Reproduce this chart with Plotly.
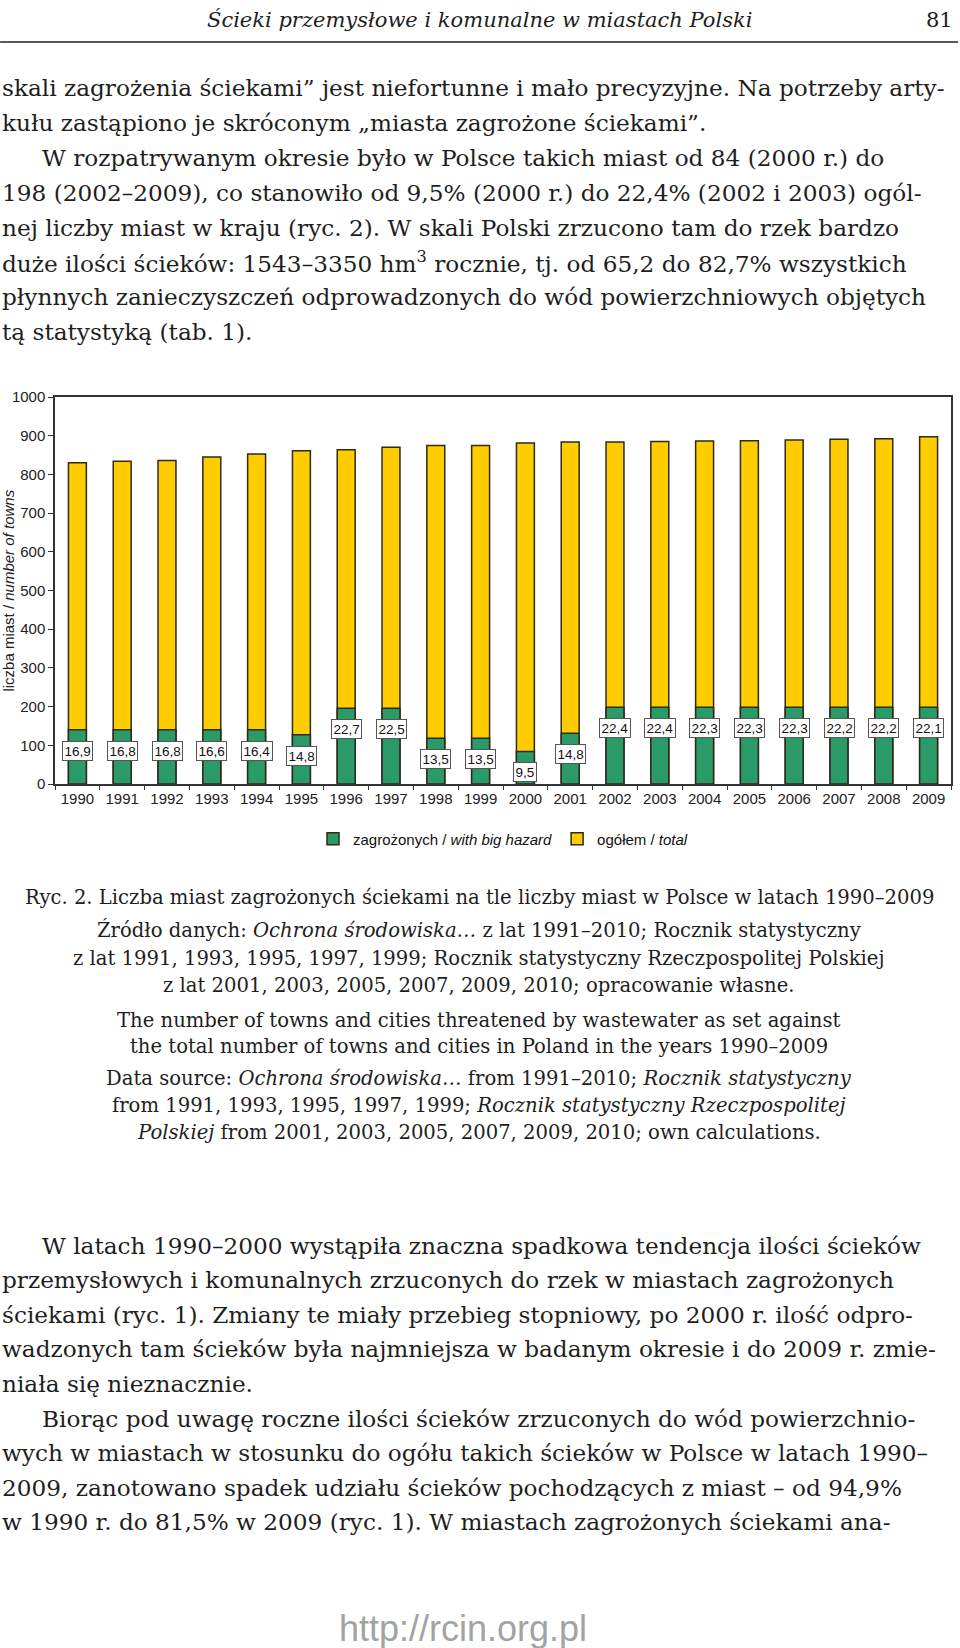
import plotly.graph_objects as go

# ---------------- data ----------------
years = [str(y) for y in range(1990, 2010)]
total_towns = [830, 834, 836, 845, 853, 861, 864, 870, 875, 875,
               881, 884, 884, 885, 886, 887, 889, 891, 892, 897]
hazard_towns = [140, 140, 140, 140, 140, 127, 196, 196, 118, 118,
                84, 131, 198, 198, 198, 198, 198, 198, 198, 198]
hazard_share = ["16,9", "16,8", "16,8", "16,6", "16,4", "14,8", "22,7", "22,5", "13,5", "13,5",
                "9,5", "14,8", "22,4", "22,4", "22,3", "22,3", "22,3", "22,2", "22,2", "22,1"]
y_ticks = [0, 100, 200, 300, 400, 500, 600, 700, 800, 900, 1000]

# ---------------- page geometry ----------------
W, H = 960, 1648
PL, PR, PT, PB = 55, 953, 397, 784   # plot area in pixels


def px(x):
    return (x - PL) / (PR - PL)


def py(y):
    return (PB - y) / (PB - PT)


GREEN = "#2a9a68"
YELLOW = "#ffcc00"
EDGE = "#2e2a18"
SANS = "Liberation Sans, Arial, sans-serif"
SERIF = "DejaVu Serif, serif"
INK = "#1e1e1e"

idx = list(range(len(years)))

fig = go.Figure()
fig.add_trace(go.Bar(
    x=idx, y=total_towns, name="ogółem / <i>total</i>",
    marker=dict(color=YELLOW, line=dict(color=EDGE, width=1.5)),
    width=0.4, legendrank=2,
))
fig.add_trace(go.Bar(
    x=idx, y=hazard_towns, name="zagrożonych / <i>with big hazard</i>",
    marker=dict(color=GREEN, line=dict(color=EDGE, width=1.5)),
    width=0.4, legendrank=1,
))

annotations = []
# value boxes
for i, hv, lab in zip(idx, hazard_towns, hazard_share):
    annotations.append(dict(
        x=i, y=hv, xref="x", yref="y", text=lab, showarrow=False,
        yshift=-21, font=dict(family=SANS, size=13.5, color="#111"),
        bgcolor="white", bordercolor="#555", borderwidth=1, borderpad=1.5,
    ))

# y axis title
annotations.append(dict(
    x=px(8), y=0.5, xref="paper", yref="paper", textangle=-90,
    text="liczba miast / <i>number of towns</i>", showarrow=False,
    font=dict(family=SANS, size=15, color="#222"), xanchor="center", yanchor="middle",
))


def line(text, x, y, size=23.2, anchor="left", family=SERIF, color=INK):
    annotations.append(dict(
        x=px(x), y=py(y), xref="paper", yref="paper", text=text, showarrow=False,
        xanchor=anchor, yanchor="middle", font=dict(family=family, size=size, color=color),
    ))


# header
line("<i>Ścieki przemysłowe i komunalne w miastach Polski</i>", 480, 20, size=21, anchor="center")
line("81", 957, 20, size=21, anchor="right")

# paragraph 1
para1 = [
    (0, "skali zagrożenia ściekami” jest niefortunne i mało precyzyjne. Na potrzeby arty-"),
    (0, "kułu zastąpiono je skróconym „miasta zagrożone ściekami”."),
    (40, "W rozpatrywanym okresie było w Polsce takich miast od 84 (2000 r.) do"),
    (0, "198 (2002–2009), co stanowiło od 9,5% (2000 r.) do 22,4% (2002 i 2003) ogól-"),
    (0, "nej liczby miast w kraju (ryc. 2). W skali Polski zrzucono tam do rzek bardzo"),
    (0, "duże ilości ścieków: 1543–3350 hm<sup>3</sup> rocznie, tj. od 65,2 do 82,7% wszystkich"),
    (0, "płynnych zanieczyszczeń odprowadzonych do wód powierzchniowych objętych"),
    (0, "tą statystyką (tab. 1)."),
]
for i, (ind, t) in enumerate(para1):
    line(t, ind, 88 + i * 34.8)

# caption
caption = [
    (897, "Ryc. 2. Liczba miast zagrożonych ściekami na tle liczby miast w Polsce w latach 1990–2009"),
    (930, "Źródło danych: <i>Ochrona środowiska…</i> z lat 1991–2010; Rocznik statystyczny"),
    (958, "z lat 1991, 1993, 1995, 1997, 1999; Rocznik statystyczny Rzeczpospolitej Polskiej"),
    (985, "z lat 2001, 2003, 2005, 2007, 2009, 2010; opracowanie własne."),
    (1020, "The number of towns and cities threatened by wastewater as set against"),
    (1046, "the total number of towns and cities in Poland in the years 1990–2009"),
    (1078, "Data source: <i>Ochrona środowiska…</i> from 1991–2010; <i>Rocznik statystyczny</i>"),
    (1105, "from 1991, 1993, 1995, 1997, 1999; <i>Rocznik statystyczny Rzeczpospolitej</i>"),
    (1132, "<i>Polskiej</i> from 2001, 2003, 2005, 2007, 2009, 2010; own calculations."),
]
for yy, t in caption:
    line(t, 480, yy, size=19.6, anchor="center")

# paragraphs 2 & 3
para2 = [
    (40, "W latach 1990–2000 wystąpiła znaczna spadkowa tendencja ilości ścieków"),
    (0, "przemysłowych i komunalnych zrzuconych do rzek w miastach zagrożonych"),
    (0, "ściekami (ryc. 1). Zmiany te miały przebieg stopniowy, po 2000 r. ilość odpro-"),
    (0, "wadzonych tam ścieków była najmniejsza w badanym okresie i do 2009 r. zmie-"),
    (0, "niała się nieznacznie."),
    (40, "Biorąc pod uwagę roczne ilości ścieków zrzuconych do wód powierzchnio-"),
    (0, "wych w miastach w stosunku do ogółu takich ścieków w Polsce w latach 1990–"),
    (0, "2009, zanotowano spadek udziału ścieków pochodzących z miast – od 94,9%"),
    (0, "w 1990 r. do 81,5% w 2009 (ryc. 1). W miastach zagrożonych ściekami ana-"),
]
for i, (ind, t) in enumerate(para2):
    line(t, ind, 1245 + i * 34.6)

# watermark
line("http://rcin.org.pl", 464, 1628, size=36, anchor="center", family=SANS, color="#a3a3a3")

shapes = [dict(type="line", xref="paper", yref="paper", x0=px(0), x1=px(960),
               y0=py(42), y1=py(42), line=dict(color="#222", width=1.6))]

fig.update_layout(
    width=W, height=H,
    margin=dict(l=PL, r=W - PR, t=PT, b=H - PB, pad=0),
    paper_bgcolor="white", plot_bgcolor="white",
    barmode="overlay",
    showlegend=True,
    legend=dict(orientation="h", x=0.5, xanchor="center", y=py(839), yanchor="middle",
                font=dict(family=SANS, size=15, color="#111"), traceorder="normal",
                itemclick=False),
    annotations=annotations, shapes=shapes,
    font=dict(family=SANS, color="#222"),
)
fig.update_xaxes(
    range=[-0.5, len(years) - 0.5], tickmode="array", tickvals=idx, ticktext=years,
    showline=True, linecolor="#333", linewidth=1.5, mirror=True,
    ticks="", tickfont=dict(family=SANS, size=15, color="#222"), showgrid=False,
    zeroline=False,
    minor=dict(tickmode="array", tickvals=[i - 0.5 for i in idx] + [len(years) - 0.5],
               ticks="outside", ticklen=4, tickcolor="#333", showgrid=False),
)
fig.update_yaxes(
    range=[0, 1000], tickvals=y_ticks,
    showline=True, linecolor="#333", linewidth=1.5, mirror=True,
    ticks="outside", ticklen=5, tickcolor="#333",
    tickfont=dict(family=SANS, size=15, color="#222"), showgrid=False, zeroline=False,
)

fig.write_html("out.html", config={"displayModeBar": False},
               post_script="document.body.style.margin='0px';")
